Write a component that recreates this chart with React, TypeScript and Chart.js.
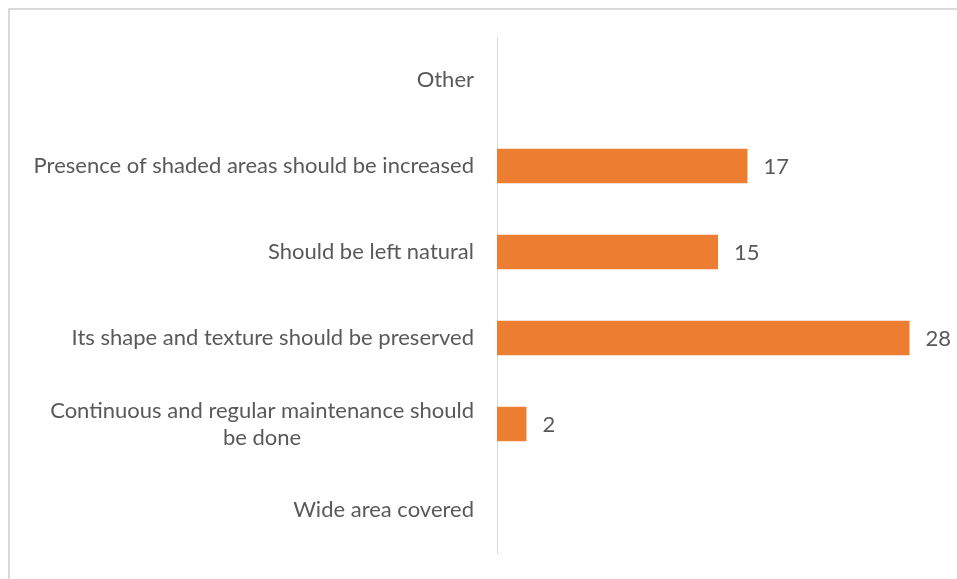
import React, { useEffect, useRef } from "react";
import { Chart, registerables } from "chart.js";

Chart.register(...registerables);

const categories: (string | string[])[] = [
  "Other",
  "Presence of shaded areas should be increased",
  "Should be left natural",
  "Its shape and texture should be preserved",
  ["Continuous and regular maintenance should", "be done"],
  "Wide area covered",
];
const values: (number | null)[] = [null, 17, 15, 28, 2, null];
const axisMax = 30;

const FONT = "Lato, 'Open Sans', sans-serif";
const FONT_SIZE = 22;
const TEXT_COLOR = "#595959";
const BAR_COLOR = "#ED7D31";

const labelPlugin = {
  id: "customLabels",
  afterDraw(chart: any) {
    const ctx = chart.ctx;
    const y = chart.scales.y;
    const x = chart.scales.x;
    ctx.save();
    ctx.font = `${FONT_SIZE}px ${FONT}`;
    ctx.fillStyle = TEXT_COLOR;
    ctx.textBaseline = "middle";
    const lineH = 27;
    const rightEdge = y.right - 23;
    categories.forEach((lab, i) => {
      const cy = y.getPixelForTick(i);
      const lines = Array.isArray(lab) ? lab : [lab];
      const maxW = Math.max(...lines.map((l) => ctx.measureText(l).width));
      const cx = rightEdge - maxW / 2;
      ctx.textAlign = "center";
      lines.forEach((l, k) => {
        const ly = cy + (k - (lines.length - 1) / 2) * lineH;
        ctx.fillText(l, cx, ly);
      });
    });
    ctx.textAlign = "left";
    values.forEach((v, i) => {
      if (v === null || v === undefined) return;
      const px = x.getPixelForValue(v);
      const cy = y.getPixelForTick(i);
      ctx.fillText(String(v), px + 16, cy + 1);
    });
    ctx.restore();
  },
};

export default function App() {
  const ref = useRef<HTMLCanvasElement>(null);
  useEffect(() => {
    if (!ref.current) return;
    const chart = new Chart(ref.current, {
      type: "bar",
      data: {
        labels: categories as any,
        datasets: [
          {
            data: values as any,
            backgroundColor: BAR_COLOR,
            borderWidth: 0,
            barPercentage: 0.4,
            categoryPercentage: 1,
          },
        ],
      },
      options: {
        indexAxis: "y",
        animation: false,
        responsive: false,
        layout: { padding: { top: 27, bottom: 26, right: 18, left: 0 } },
        plugins: { legend: { display: false }, tooltip: { enabled: false } },
        scales: {
          x: {
            min: 0,
            max: axisMax,
            display: false,
          },
          y: {
            grid: { display: false, drawTicks: false },
            border: { display: true, color: "#d9d9d9", width: 1 },
            ticks: { display: false },
            afterFit(scale: any) {
              scale.width = 487;
            },
          },
        },
      },
      plugins: [labelPlugin],
    });
    return () => chart.destroy();
  }, []);
  return (
    <div
      style={{
        position: "absolute",
        left: 8,
        top: 8,
        width: 949,
        height: 571,
        boxSizing: "border-box",
        borderTop: "2px solid #d9d9d9",
        borderLeft: "2px solid #d9d9d9",
        overflow: "hidden",
      }}
    >
      <canvas ref={ref} width={947} height={569} style={{ display: "block" }} />
    </div>
  );
}
